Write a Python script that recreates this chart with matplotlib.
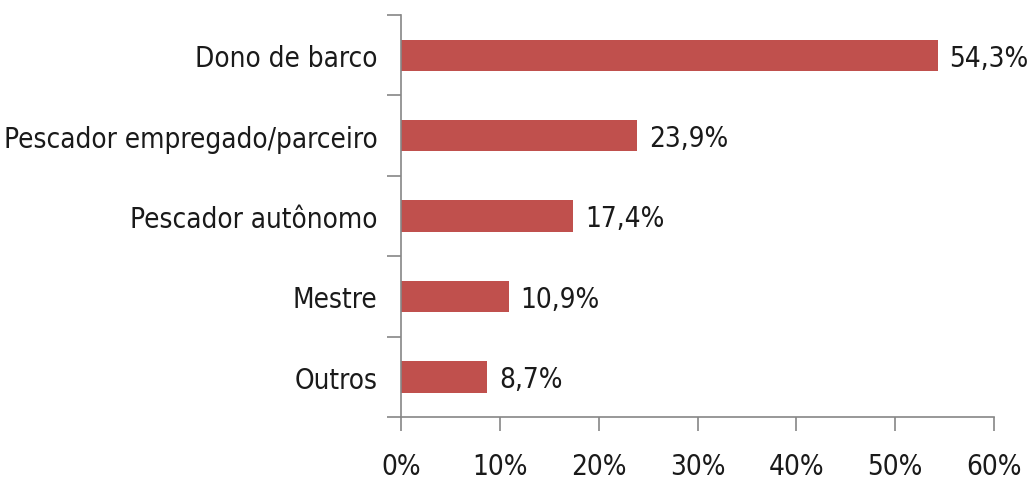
import numpy as np
import matplotlib
matplotlib.use('Agg')
import matplotlib.pyplot as plt
from matplotlib.ticker import FixedLocator, PercentFormatter

categories = ["Dono de barco", "Pescador empregado/parceiro", "Pescador autônomo", "Mestre", "Outros"]
values = [54.3, 23.9, 17.4, 10.9, 8.7]
xticks = [0, 10, 20, 30, 40, 50, 60]

plt.rcParams['font.family'] = ['DejaVu Sans']
plt.rcParams['font.stretch'] = 'condensed'

fig = plt.figure(figsize=(10.32, 4.85), dpi=100)
ax = fig.add_axes([0.3886, 0.138, 0.5746, 0.829])

bar_color = '#C0504D'
grey = '#868686'

y = np.arange(len(categories))
ax.barh(y, values, height=0.39, color=bar_color)
for yi, v in zip(y, values):
    ax.text(v + 1.2, yi + 0.03, f"{v:.1f}%".replace('.', ','), va='center', ha='left',
            fontsize=20, color='#1a1a1a')

ax.set_xlim(0, 60)
ax.set_ylim(len(categories) - 0.5, -0.5)
ax.set_xticks(xticks)
ax.xaxis.set_major_formatter(PercentFormatter(decimals=0))
ax.set_yticks(y)
ax.set_yticklabels(categories)
ax.yaxis.set_minor_locator(FixedLocator(np.arange(-0.5, len(categories), 1.0)))

ax.tick_params(axis='y', which='major', length=0, pad=17, labelsize=20, labelcolor='#1a1a1a')
ax.tick_params(axis='y', which='minor', length=10, width=1.2, color=grey)
ax.tick_params(axis='x', which='major', length=10, width=1.2, color=grey, pad=15,
               labelsize=20, labelcolor='#1a1a1a')

for side in ['top', 'right']:
    ax.spines[side].set_visible(False)
for side in ['left', 'bottom']:
    ax.spines[side].set_color(grey)
    ax.spines[side].set_linewidth(1.2)

plt.savefig('out.png', dpi=100)
plt.close()
